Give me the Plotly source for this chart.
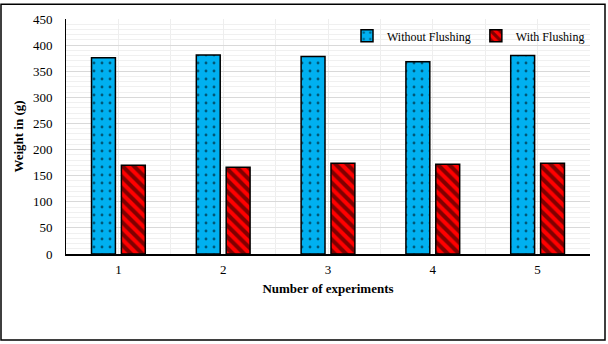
import plotly.graph_objects as go

experiments = [1, 2, 3, 4, 5]
without_flushing = [376, 381, 378, 368, 380]
with_flushing = [170, 166, 174, 172, 174]
y_ticks = [0, 50, 100, 150, 200, 250, 300, 350, 400, 450]

FONT = "Liberation Serif"

fig = go.Figure()
fig.add_trace(go.Bar(
    x=experiments, y=without_flushing, name="Without Flushing",
    marker=dict(color="#00B0F0", line=dict(color="black", width=1.5),
                pattern=dict(shape=".", fgcolor="black", bgcolor="#00B0F0", size=8, solidity=0.1)),
))
fig.add_trace(go.Bar(
    x=experiments, y=with_flushing, name="With Flushing",
    marker=dict(color="#FF0000", line=dict(color="black", width=1.5),
                pattern=dict(shape="\\", fgcolor="black", bgcolor="#FF0000", size=8, solidity=0.5)),
))

fig.update_layout(
    width=608, height=344,
    margin=dict(l=66, r=18, t=16, b=90),
    paper_bgcolor="white", plot_bgcolor="white",
    barmode="group", bargap=0.43, bargroupgap=0.2,
    font=dict(family=FONT, size=13, color="black"),
    showlegend=True,
    legend=dict(orientation="h", x=1.0, xanchor="right", y=0.99, yanchor="top",
                bgcolor="rgba(0,0,0,0)", font=dict(family=FONT, size=12),
                itemwidth=30, tracegroupgap=0),
    xaxis=dict(
        range=[0.5, 5.5], tickmode="array", tickvals=experiments,
        ticktext=[str(e) for e in experiments],
        showgrid=True, gridcolor="#EEEEEE", gridwidth=1,
        minor=dict(tick0=0.5, dtick=0.5, showgrid=True, gridcolor="#EEEEEE", gridwidth=1),
        showline=True, linecolor="black", linewidth=1.5, zeroline=False,
        ticks="", ticklabelstandoff=3, tickfont=dict(family=FONT, size=13),
        title=dict(text="<b>Number of experiments</b>", font=dict(family=FONT, size=13), standoff=8),
    ),
    yaxis=dict(
        range=[0, 450], tickmode="array", tickvals=y_ticks,
        showgrid=True, gridcolor="#D9D9D9", gridwidth=1,
        minor=dict(dtick=10, showgrid=True, gridcolor="#F0F0F0", gridwidth=1),
        showline=True, linecolor="black", linewidth=1, zeroline=False,
        ticks="", ticklabelstandoff=10, tickfont=dict(family=FONT, size=13),
        title=dict(text="<b>Weight in (g)</b>", font=dict(family=FONT, size=13), standoff=6),
    ),
)

fig.add_shape(type="rect", xref="paper", yref="paper",
              x0=(1 - 66) / 524, x1=(605 - 66) / 524,
              y0=(254 - 341) / 238, y1=(254 - 1) / 238,
              line=dict(color="black", width=1.5), fillcolor="rgba(0,0,0,0)", layer="above")

fig.write_html("out.html")
